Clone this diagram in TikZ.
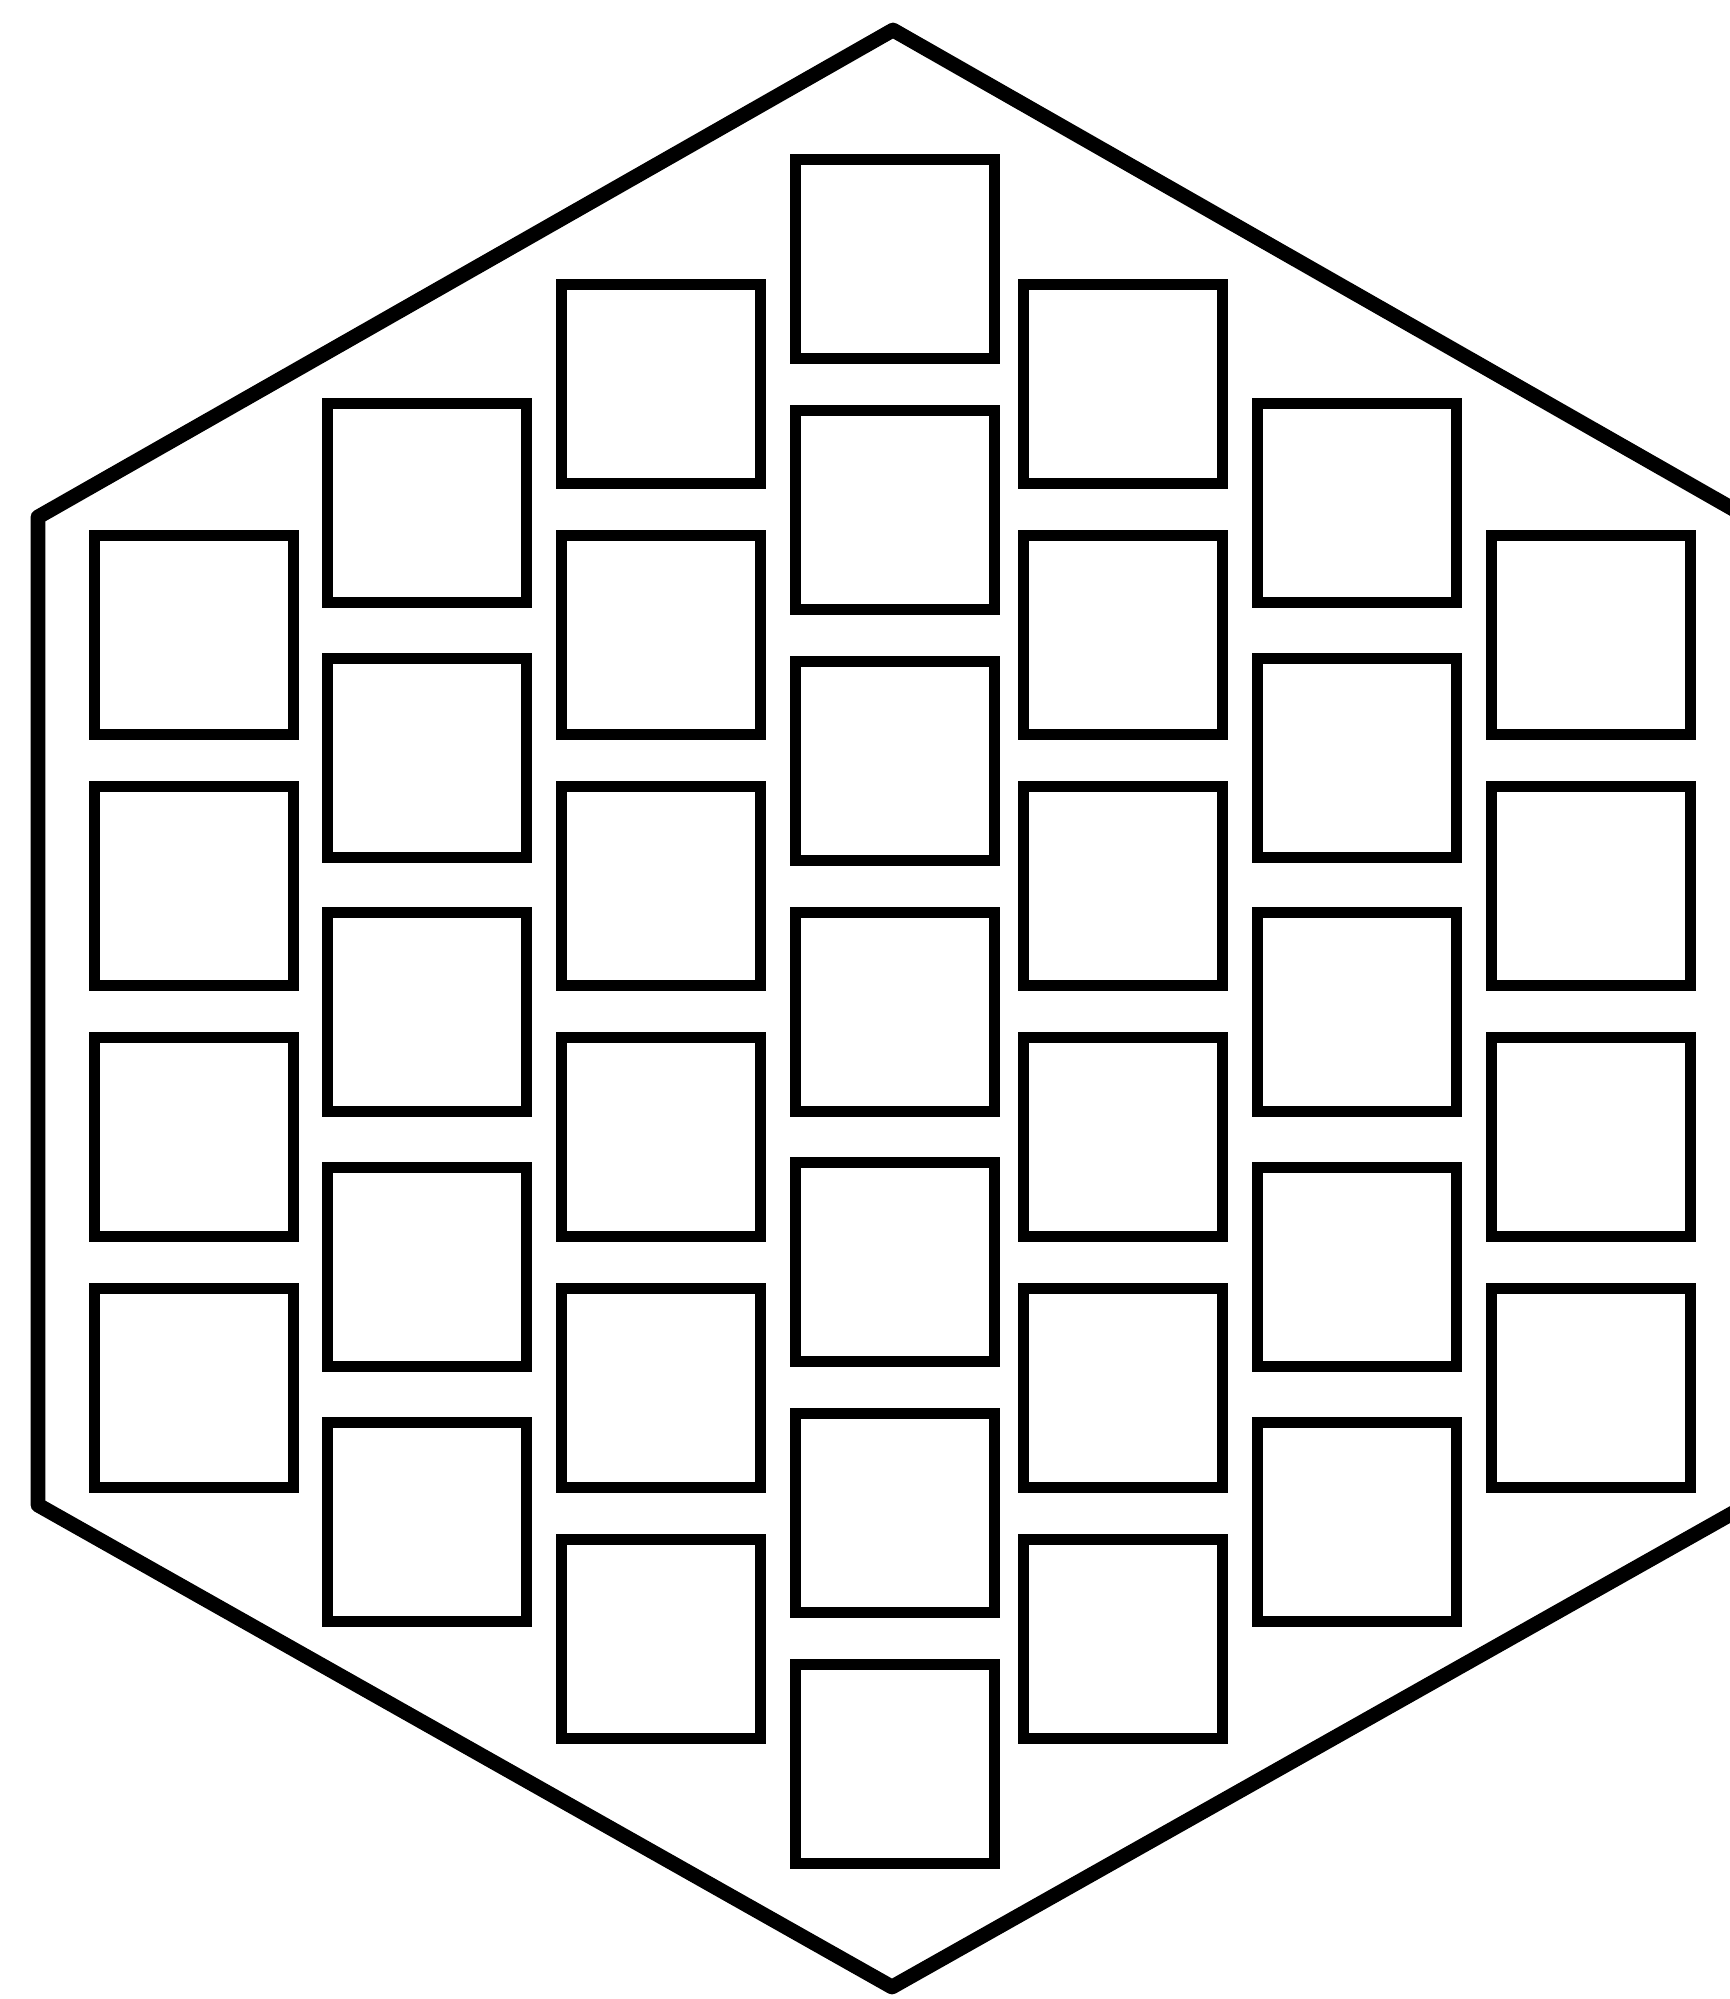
\documentclass[tikz,border=0pt]{standalone}
\usepackage{xcolor}
\usepackage{tikz}
\usetikzlibrary{positioning}
\begin{document}
\begin{tikzpicture}[x=0.01cm,y=-0.01cm]
\tikzset{cell/.style={draw=black,line width=3pt,minimum size=1.99cm,inner sep=0pt}, rim/.style={draw=black,line width=4.2pt,line join=round}}
\useasboundingbox (0,0) rectangle (1730,1999);
\clip (0,0) rectangle (1730,1999);
% outer hexagon
\coordinate (top) at (893,30);\coordinate (ul) at (38,517);\coordinate (ll) at (38,1505);
\coordinate (bot) at (892,1987);\coordinate (lr) at (1747,1505);\coordinate (ur) at (1747,517);
\draw[rim] (top)--(ul)--(ll)--(bot)--(lr)--(ur)--cycle;
% columns of cells
\foreach \y [count=\r] in {635,886,1137,1388} {\node[cell] (a\r) at (194,\y) {};\node[cell] (g\r) at (1591,\y) {};}
\foreach \y [count=\r] in {503,758,1012,1267,1522} {\node[cell] (b\r) at (427,\y) {};\node[cell] (f\r) at (1357,\y) {};}
\foreach \y [count=\r] in {384,635,886,1137,1388,1639} {\node[cell] (c\r) at (661,\y) {};\node[cell] (e\r) at (1123,\y) {};}
\foreach \y [count=\r] in {259,510,761,1012,1262,1513,1764} {\node[cell] (d\r) at (895,\y) {};}
\end{tikzpicture}
\end{document}
